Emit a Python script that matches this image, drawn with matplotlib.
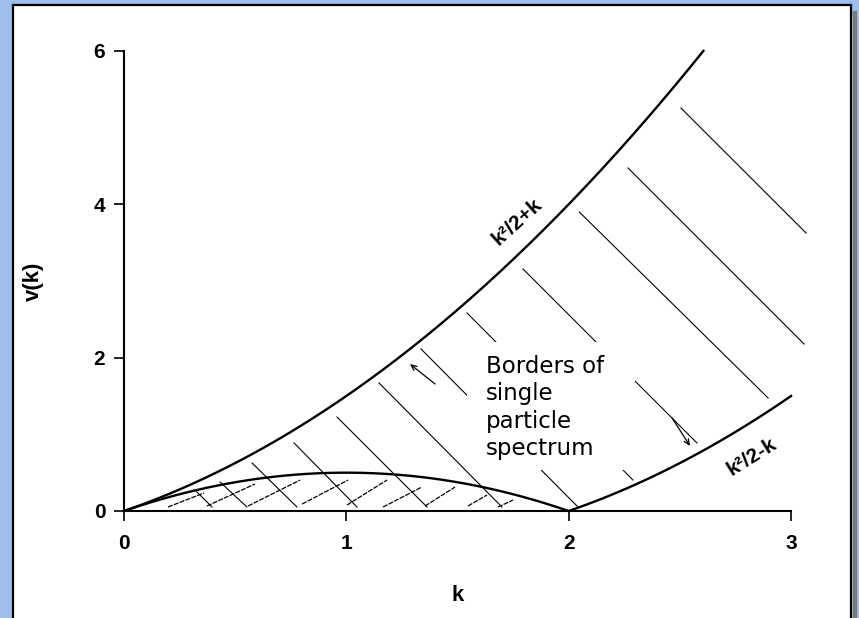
import numpy as np
import matplotlib
matplotlib.use("Agg")
import matplotlib.pyplot as plt
from matplotlib.patches import Rectangle
from matplotlib.lines import Line2D

# spectrum borders
k_up = np.linspace(0, 2.606, 200)          # k^2/2 + k up to v = 6
k_dome = np.linspace(0, 2, 200)            # k - k^2/2
k_low = np.linspace(2, 3, 100)             # k^2/2 - k

# hatch lines running down-right (start k, start v, end k, end v)
hatch_k0 = [2.505, 2.267, 2.048, 1.795, 1.543, 1.336, 1.147, 0.958, 0.765, 0.576, 0.432, 0.319]
hatch_v0 = [5.256, 4.474, 3.900, 3.156, 2.583, 2.113, 1.670, 1.226, 0.887, 0.626, 0.378, 0.274]
hatch_k1 = [3.068, 3.059, 2.897, 2.577, 2.289, 2.042, 1.700, 1.363, 1.048, 0.778, 0.553, 0.396]
hatch_v1 = [3.626, 2.178, 1.474, 0.887, 0.404, 0.052, 0.052, 0.052, 0.052, 0.052, 0.052, 0.052]

# dashed lines running up-right inside the dome
dash_k0 = [0.198, 0.373, 0.558, 0.801, 1.003, 1.165, 1.354, 1.547, 1.682]
dash_v0 = [0.052, 0.065, 0.065, 0.091, 0.078, 0.052, 0.065, 0.065, 0.052]
dash_k1 = [0.360, 0.589, 0.792, 1.008, 1.183, 1.340, 1.489, 1.633, 1.750]
dash_v1 = [0.235, 0.352, 0.404, 0.404, 0.404, 0.313, 0.313, 0.209, 0.143]

# arrows (tail -> head)
arrow_tail = [(1.399, 1.657), (2.465, 1.213)]
arrow_head = [(1.286, 1.917), (2.546, 0.848)]

x_ticks = [0, 1, 2, 3]
y_ticks = [0, 2, 4, 6]

fig = plt.figure(figsize=(8.59, 6.18), dpi=100)
fig.patch.set_facecolor('#9dbdeb')

# white panel with black frame and a grey shadow on the right
fig.patches.append(Rectangle((12.5 / 859, -0.02), 838 / 859, 613 / 618 + 0.02,
                             transform=fig.transFigure, facecolor='white',
                             edgecolor='black', lw=1.6, zorder=-10))
fig.lines.append(Line2D([855 / 859, 855 / 859], [0, 605 / 618], transform=fig.transFigure,
                        color='#7a7a7a', lw=3, zorder=-10))

ax = fig.add_axes([124 / 859, 107 / 618, 667 / 859, 460 / 618])
ax.patch.set_alpha(0)

ax.plot(k_up, k_up**2 / 2 + k_up, color='black', lw=1.7, clip_on=False)
ax.plot(k_dome, k_dome - k_dome**2 / 2, color='black', lw=1.7, clip_on=False)
ax.plot(k_low, k_low**2 / 2 - k_low, color='black', lw=1.7, clip_on=False)

for a, b, c, d in zip(hatch_k0, hatch_v0, hatch_k1, hatch_v1):
    ax.plot([a, c], [b, d], color='black', lw=0.8, clip_on=False)
for a, b, c, d in zip(dash_k0, dash_v0, dash_k1, dash_v1):
    ax.plot([a, c], [b, d], color='black', lw=0.9, ls=(0, (4, 1)))

for t, h in zip(arrow_tail, arrow_head):
    ax.annotate('', xy=h, xytext=t,
                arrowprops=dict(arrowstyle='->,head_length=0.4,head_width=0.18',
                                color='black', lw=0.9, shrinkA=0, shrinkB=0))

# white box behind the note
ax.add_patch(Rectangle((1.543, 0.535), 0.756, 1.671, facecolor='white',
                       edgecolor='none', zorder=3))
ax.text(1.628, 0.730, 'Borders of\nsingle\nparticle\nspectrum', fontsize=16.5,
        family='DejaVu Sans', ha='left', va='baseline', linespacing=1.24, zorder=4)

ax.text(1.768, 3.77, 'k²/2+k', fontsize=15, fontweight='bold', family='Liberation Sans',
        rotation=42, ha='center', va='center', rotation_mode='anchor')
ax.text(2.825, 0.704, 'k²/2-k', fontsize=15, fontweight='bold', family='Liberation Sans',
        rotation=32, ha='center', va='center', rotation_mode='anchor')

ax.set_xlim(0, 3)
ax.set_ylim(0, 6)
ax.set_xticks(x_ticks)
ax.set_yticks(y_ticks)
ax.spines['top'].set_visible(False)
ax.spines['right'].set_visible(False)
for s in ('left', 'bottom'):
    ax.spines[s].set_linewidth(1.5)
ax.tick_params(direction='out', length=7.5, width=1.2)
ax.tick_params(axis='x', pad=9)
ax.tick_params(axis='y', pad=6)
for lab in ax.get_xticklabels() + ax.get_yticklabels():
    lab.set_fontfamily('Liberation Sans')
    lab.set_fontweight('bold')
    lab.set_fontsize(15)

ax.set_xlabel('k', fontsize=16, fontweight='bold', family='Liberation Sans')
ax.xaxis.set_label_coords(0.5, -0.183)
ax.xaxis.label.set_verticalalignment('center')
ax.set_ylabel('v(k)', fontsize=16, fontweight='bold', family='Liberation Sans')
ax.yaxis.set_label_coords(-0.1364, 0.5)
ax.yaxis.label.set_verticalalignment('center')

fig.savefig('out.png', dpi=100, facecolor=fig.get_facecolor())
